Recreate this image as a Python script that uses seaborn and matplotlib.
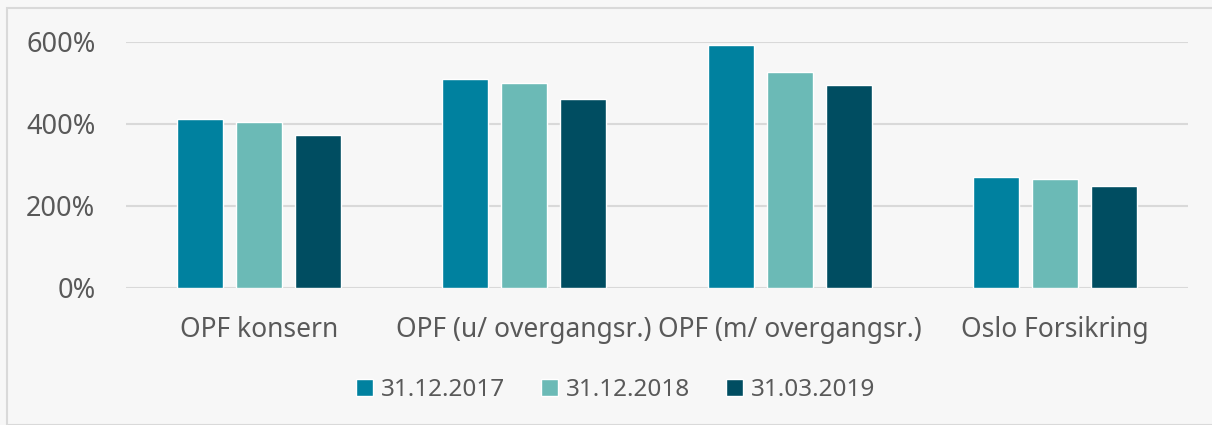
import pandas as pd
import matplotlib.pyplot as plt
import seaborn as sns
from matplotlib.patches import Rectangle

# --- data ---
categories = ['OPF konsern', 'OPF (u/ overgangsr.)', 'OPF (m/ overgangsr.)', 'Oslo Forsikring']
dates = ['31.12.2017', '31.12.2018', '31.03.2019']
v_2017 = [411, 509, 592, 270]
v_2018 = [406, 500, 526, 265]
v_2019 = [374, 462, 494, 250]
colors = ['#00819f', '#6bbab6', '#004d61']

sns.set_theme(style="white")
plt.rcParams['font.family'] = ['Noto Sans', 'DejaVu Sans']

rows = []
for d, vals in zip(dates, [v_2017, v_2018, v_2019]):
    for c, v in zip(categories, vals):
        rows.append({'Kategori': c, 'Dato': d, 'Verdi': v})
df = pd.DataFrame(rows)

fig = plt.figure(figsize=(12.12, 4.25), dpi=100, facecolor='#f7f7f7')
fig.patches.append(Rectangle((7 / 1212, 0), 1.0, 1 - 8 / 425, transform=fig.transFigure,
                             facecolor='none', edgecolor='#d9d9d9', linewidth=1.5))
ax = fig.add_axes([126 / 1212, 1 - 288 / 425, (1188 - 126) / 1212, (288 - 42) / 425])
ax.set_facecolor('#f7f7f7')

sns.barplot(data=df, x='Kategori', y='Verdi', hue='Dato', palette=colors,
            width=0.667, gap=0.22, ax=ax, saturation=1, legend=True)

ax.set_ylim(0, 600)
ax.set_yticks([0, 200, 400, 600])
ax.set_yticklabels([f'{t}%' for t in [0, 200, 400, 600]])
ax.yaxis.grid(True, color='#d9d9d9', linewidth=1.5)
ax.set_axisbelow(True)
for s in ax.spines.values():
    s.set_visible(False)
ax.set_xlabel('')
ax.set_ylabel('')
ax.tick_params(axis='y', length=0, pad=22, labelsize=19.5, labelcolor='#595959')
ax.tick_params(axis='x', length=0, pad=20, labelsize=19, labelcolor='#595959')

ax.get_legend().remove()
handles, labels = ax.get_legend_handles_labels()
fig.legend(handles, labels, loc='center', bbox_to_anchor=(0.508, 1 - 390 / 425), ncol=3,
           frameon=False, fontsize=17.5, labelcolor='#595959', handlelength=0.7,
           handleheight=0.7, handletextpad=0.3, columnspacing=1.5)

fig.savefig('out.png', dpi=100, facecolor=fig.get_facecolor())
